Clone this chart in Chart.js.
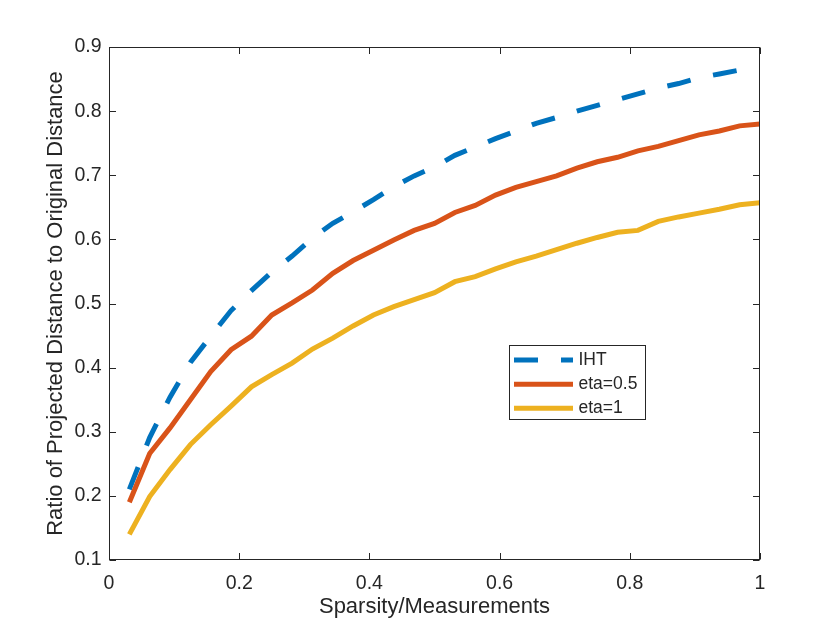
<!DOCTYPE html>
<html>
<head>
<meta charset="utf-8">
<script src="https://cdn.jsdelivr.net/npm/chart.js@4/dist/chart.umd.min.js"></script>
<style>
html,body{margin:0;padding:0;background:#fff;}
canvas{display:block;}
</style>
</head>
<body>
<canvas id="c" width="840" height="630"></canvas>
<script>
// ---- data ----
const sparsity = [0.03125, 0.0625, 0.09375, 0.125, 0.15625, 0.1875, 0.21875, 0.25,
  0.28125, 0.3125, 0.34375, 0.375, 0.40625, 0.4375, 0.46875, 0.5,
  0.53125, 0.5625, 0.59375, 0.625, 0.65625, 0.6875, 0.71875, 0.75,
  0.78125, 0.8125, 0.84375, 0.875, 0.90625, 0.9375, 0.96875, 1];
const ihtRatio = [0.210, 0.291, 0.354, 0.408, 0.449, 0.489, 0.520, 0.549,
  0.574, 0.602, 0.625, 0.643, 0.662, 0.682, 0.699, 0.713,
  0.731, 0.744, 0.757, 0.769, 0.781, 0.790, 0.800, 0.809,
  0.818, 0.827, 0.836, 0.843, 0.852, 0.858, 0.864, 0.869];
const eta05Ratio = [0.190, 0.266, 0.306, 0.350, 0.394, 0.428, 0.449, 0.482,
  0.501, 0.521, 0.547, 0.567, 0.583, 0.599, 0.614, 0.625,
  0.642, 0.653, 0.669, 0.681, 0.690, 0.699, 0.711, 0.721,
  0.728, 0.738, 0.745, 0.754, 0.763, 0.769, 0.777, 0.780];
const eta1Ratio = [0.140, 0.199, 0.241, 0.280, 0.311, 0.340, 0.370, 0.389,
  0.407, 0.429, 0.446, 0.465, 0.482, 0.495, 0.506, 0.517,
  0.534, 0.542, 0.554, 0.565, 0.574, 0.584, 0.594, 0.603,
  0.611, 0.614, 0.628, 0.635, 0.641, 0.647, 0.654, 0.657];
const seriesLabels = ['IHT', 'eta=0.5', 'eta=1'];
const xTickValues = [0, 0.2, 0.4, 0.6, 0.8, 1];
const yTickValues = [0.1, 0.2, 0.3, 0.4, 0.5, 0.6, 0.7, 0.8, 0.9];
const xTitle = 'Sparsity/Measurements';
const yTitle = 'Ratio of Projected Distance to Original Distance';

// ---- styling ----
const FONT = '"Liberation Sans", Arial, Helvetica, sans-serif';
const INK = '#262626';
const toPts = ys => ys.map((v, i) => ({x: sparsity[i], y: v}));

const framePlugin = {
  id: 'frame',
  afterDatasetsDraw(chart) {
    const {ctx, chartArea: a, scales: {x, y}} = chart;
    ctx.save();
    ctx.strokeStyle = INK;
    ctx.lineWidth = 1;
    ctx.setLineDash([]);
    const L = a.left + 0.5, R = a.right - 0.5, T = a.top + 0.5, B = a.bottom - 0.5;
    ctx.strokeRect(L, T, R - L, B - T);
    const tl = 6.5;
    ctx.beginPath();
    x.ticks.forEach(t => {
      const px = Math.round(x.getPixelForValue(t.value)) + 0.5;
      ctx.moveTo(px, B); ctx.lineTo(px, B - tl);
      ctx.moveTo(px, T); ctx.lineTo(px, T + tl);
    });
    y.ticks.forEach(t => {
      const py = Math.round(y.getPixelForValue(t.value)) + 0.5;
      ctx.moveTo(L, py); ctx.lineTo(L + tl, py);
      ctx.moveTo(R, py); ctx.lineTo(R - tl, py);
    });
    ctx.stroke();

    // legend box
    const bx = 509.5, by = 345.5, bw = 136, bh = 74;
    ctx.fillStyle = '#fff';
    ctx.fillRect(bx, by, bw, bh);
    ctx.strokeRect(bx, by, bw, bh);
    const rows = [360, 384.3, 408.3];
    chart.data.datasets.forEach((ds, i) => {
      ctx.beginPath();
      ctx.setLineDash(ds.borderDash || []);
      ctx.lineDashOffset = 0;
      ctx.strokeStyle = ds.borderColor;
      ctx.lineWidth = ds.borderWidth;
      ctx.lineCap = 'butt';
      ctx.moveTo(514, rows[i]);
      ctx.lineTo(573, rows[i]);
      ctx.stroke();
      ctx.setLineDash([]);
      ctx.fillStyle = INK;
      ctx.font = '17.5px ' + FONT;
      ctx.textBaseline = 'middle';
      ctx.textAlign = 'left';
      ctx.fillText(ds.label, 578.5, rows[i]);
    });
    ctx.restore();
  }
};

new Chart(document.getElementById('c'), {
  type: 'line',
  data: {
    datasets: [
      {label: seriesLabels[0], data: toPts(ihtRatio), borderColor: '#0072BD', borderWidth: 5, borderDash: [24, 23], order: 3},
      {label: seriesLabels[1], data: toPts(eta05Ratio), borderColor: '#D95319', borderWidth: 5, order: 2},
      {label: seriesLabels[2], data: toPts(eta1Ratio), borderColor: '#EDB120', borderWidth: 5, order: 1}
    ]
  },
  options: {
    responsive: false,
    animation: false,
    devicePixelRatio: 1,
    layout: {padding: {left: 0, right: 80, top: 47, bottom: 0}},
    plugins: {legend: {display: false}, tooltip: {enabled: false}},
    elements: {
      point: {radius: 0, hoverRadius: 0},
      line: {tension: 0, fill: false, borderCapStyle: 'butt', borderJoinStyle: 'miter'}
    },
    scales: {
      x: {
        type: 'linear', position: 'bottom', min: 0, max: 1,
        afterBuildTicks: s => { s.ticks = xTickValues.map(v => ({value: v})); },
        afterFit: s => { s.height = 70; },
        grid: {display: false, drawTicks: false},
        border: {display: false},
        ticks: {color: INK, font: {family: FONT, size: 19.5}, padding: 11.6, maxRotation: 0, autoSkip: false,
          callback: v => String(v)},
        title: {display: true, text: xTitle, color: INK, font: {family: FONT, size: 22}, padding: {top: 0, bottom: 10}}
      },
      y: {
        type: 'linear', position: 'left', min: 0.1, max: 0.9,
        afterBuildTicks: s => { s.ticks = yTickValues.map(v => ({value: v})); },
        afterFit: s => { s.width = 109; },
        grid: {display: false, drawTicks: false},
        border: {display: false},
        ticks: {color: INK, font: {family: FONT, size: 19.5}, padding: 7.5, autoSkip: false,
          callback: v => v.toFixed(1)},
        title: {display: true, text: yTitle, color: INK, font: {family: FONT, size: 22}, padding: {top: 42.3, bottom: 0}}
      }
    }
  },
  plugins: [framePlugin]
});
</script>
</body>
</html>
